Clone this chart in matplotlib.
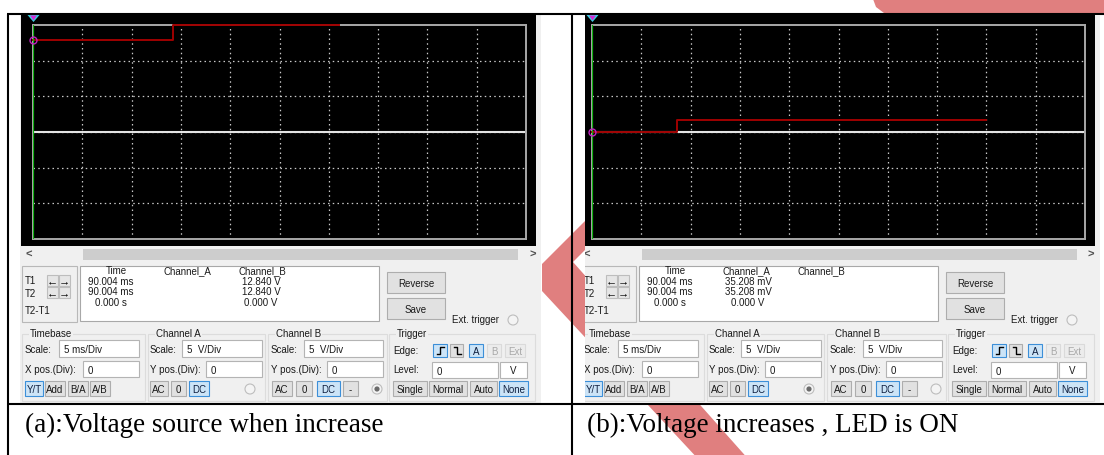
import numpy as np
import matplotlib.pyplot as plt
from matplotlib.patches import Rectangle, Polygon, Circle

W, H = 1104, 456

# oscilloscope traces: time in ms, volts
a_cha_t = [0.0, 50.0]
a_cha_v = [0.0, 0.0]
a_chb_t = [0.0, 14.2, 14.2, 31.0]
a_chb_v = [12.84, 12.84, 15.0, 15.0]
b_cha_t = [0.0, 50.0]
b_cha_v = [0.035, 0.035]
b_chb_t = [0.0, 8.6, 8.6, 40.0]
b_chb_v = [0.0, 0.0, 1.7, 1.7]

# readout table
readout_cols = ["Time", "Channel_A", "Channel_B"]
cursor_rows = ["T1", "T2", "T2-T1"]
time_vals = ["90.004 ms", "90.004 ms", "0.000 s"]
a_cha_vals = ["", "", ""]
a_chb_vals = ["12.840 V", "12.840 V", "0.000 V"]
b_cha_vals = ["35.208 mV", "35.208 mV", "0.000 V"]
b_chb_vals = ["", "", ""]

timebase_scale = "5 ms/Div"
channel_scale = "5  V/Div"
captions = ["(a):Voltage source when increase", "(b):Voltage increases , LED is ON"]

plt.rcParams['font.family'] = ['Liberation Sans', 'DejaVu Sans']

fig = plt.figure(figsize=(W / 100, H / 100), dpi=100)
ax = fig.add_axes([0, 0, 1, 1], zorder=0)
ax.set_xlim(0, W)
ax.set_ylim(H, 0)
ax.axis('off')

# panel b is cropped on its left side, so give it its own clipping axes
axb = fig.add_axes([585 / W, 0, (W - 585) / W, 1], zorder=2)
axb.set_xlim(585, W)
axb.set_ylim(H, 0)
axb.axis('off')


def box(a, x0, y0, x1, y1, fc, ec='none', lw=0.8, z=2):
    a.add_patch(Rectangle((x0, y0), x1 - x0, y1 - y0, fc=fc, ec=ec, lw=lw, zorder=z))


def txt(a, x, y, s, size=7, ha='left', color='#1a1a1a', z=4, **kw):
    a.text(x, y, s, fontsize=size, ha=ha, va='center', color=color,
           clip_on=True, zorder=z, **kw)


def button(a, x0, y0, x1, y1, label, on=False, grey=False):
    fc, ec, tc = '#E1E1E1', '#ADADAD', '#1a1a1a'
    if on:
        fc, ec, tc = '#CCE4F7', '#3C8FD8', '#102040'
    if grey:
        fc, ec, tc = '#ECECEC', '#DADADA', '#A8A8A8'
    box(a, x0, y0, x1, y1, fc, ec, lw=0.8, z=3)
    if label:
        txt(a, (x0 + x1) / 2, (y0 + y1) / 2 + 0.5, label, ha='center', color=tc)


def field(a, x0, y0, x1, y1, s):
    box(a, x0, y0, x1, y1, 'white', '#B4B4B4', lw=0.8, z=3)
    txt(a, x0 + 5, (y0 + y1) / 2 + 1, s)


def radio(a, x, y, on):
    a.add_patch(Circle((x, y), 5, fc='#F4F4F4', ec='#BDBDBD', lw=0.8, zorder=3))
    if on:
        a.add_patch(Circle((x, y), 2.6, fc='#6A6A6A', ec='none', zorder=4))


def group(a, x0, x1, label):
    a.add_patch(Rectangle((x0, 335), x1 - x0, 67, fc='none', ec='#DCDCDC', lw=0.8, zorder=2))
    a.text(x0 + 8, 334, label, fontsize=7, va='center', color='#1a1a1a', clip_on=True,
           zorder=4, bbox=dict(fc='#F0F0F0', ec='none', pad=0.6))


def draw_panel(a, dx, cha_vals, chb_vals, cha_radio):
    X = lambda x: x + dx
    box(a, X(20), 16, X(541), 404, '#F0F0F0', z=1)
    box(a, X(21), 16, X(536), 247, 'black', z=2)
    # scroll bar
    box(a, X(83), 250, X(518), 261, '#CDCDCD', z=2)
    txt(a, X(25), 255, '<', size=8, color='#505050', weight='bold')
    txt(a, X(529), 255, '>', size=8, color='#505050', weight='bold')
    # cursor flags above the screen
    a.add_patch(Polygon([(X(27.5), 16), (X(39.5), 16), (X(33.5), 23)], fc='#38D4E4', ec='none', zorder=4))
    a.add_patch(Polygon([(X(30), 16.5), (X(37), 16.5), (X(33.5), 21.5)], fc='#D42CD4', ec='none', zorder=4))

    # cursor box
    box(a, X(22), 267, X(77), 323, '#F0F0F0', '#B8B8B8', z=2)
    for label, y in zip(cursor_rows, [281, 294, 311]):
        txt(a, X(25), y, label)
    for y in [281, 293]:
        for x0, arrow in [(47, '\u2190'), (59, '\u2192')]:
            box(a, X(x0), y - 5.5, X(x0 + 11), y + 5.5, '#E6E6E6', '#BDBDBD', z=3)
            txt(a, X(x0 + 5.5), y, arrow, size=8, ha='center', weight='bold', color='black')

    # readout
    box(a, X(80), 267, X(379), 322, 'white', '#A8A8A8', z=2)
    for col, x in zip(readout_cols, [116, 187, 262]):
        txt(a, X(x), 271, col, ha='center')
    row_y = [282, 292, 303]
    for vals, x in zip([time_vals, cha_vals, chb_vals], [111, 189, 261]):
        for v, y in zip(vals, row_y):
            if v:
                txt(a, X(x), y, v, ha='center')

    button(a, X(387), 273, X(445), 294, 'Reverse')
    button(a, X(387), 299, X(445), 320, 'Save')
    txt(a, X(452), 320, 'Ext. trigger')
    radio(a, X(513), 321, False)

    # settings groups
    group(a, X(22), X(145), 'Timebase')
    group(a, X(148), X(265), 'Channel A')
    group(a, X(268), X(387), 'Channel B')
    group(a, X(389), X(535), 'Trigger')

    txt(a, X(25), 350, 'Scale:')
    field(a, X(59), 341, X(139), 358, timebase_scale)
    txt(a, X(150), 350, 'Scale:')
    field(a, X(182), 341, X(262), 358, channel_scale)
    txt(a, X(271), 350, 'Scale:')
    field(a, X(304), 341, X(383), 358, channel_scale)
    txt(a, X(393), 351, 'Edge:')
    button(a, X(433), 345, X(447), 358, '', on=True)
    button(a, X(450), 345, X(463), 358, '')
    a.plot([X(436.5), X(440), X(440), X(443.5)], [355, 355, 348, 348], color='black', lw=1.0, zorder=5)
    a.plot([X(453.5), X(457), X(457), X(460.5)], [348, 348, 355, 355], color='black', lw=1.0, zorder=5)
    button(a, X(469), 345, X(483), 358, 'A', on=True)
    button(a, X(487), 345, X(501), 358, 'B', grey=True)
    button(a, X(505), 345, X(525), 358, 'Ext', grey=True)

    txt(a, X(25), 370, 'X pos.(Div):')
    field(a, X(83), 362, X(139), 378, '0')
    txt(a, X(150), 370, 'Y pos.(Div):')
    field(a, X(206), 362, X(262), 378, '0')
    txt(a, X(271), 370, 'Y pos.(Div):')
    field(a, X(327), 362, X(383), 378, '0')
    txt(a, X(393), 370, 'Level:')
    field(a, X(432), 363, X(498), 379, '0')
    box(a, X(500), 363, X(527), 379, 'white', '#B4B4B4', z=3)
    txt(a, X(513.5), 371, 'V', ha='center')

    for x0, x1, lab, on in [(25, 43, 'Y/T', True), (45, 65, 'Add', False),
                            (68, 88, 'B/A', False), (90, 110, 'A/B', False),
                            (150, 168, 'AC', False), (171, 186, '0', False),
                            (189, 209, 'DC', True),
                            (272, 292, 'AC', False), (296, 312, '0', False),
                            (317, 340, 'DC', True), (343, 358, '-', False),
                            (393, 427, 'Single', False), (429, 467, 'Normal', False),
                            (470, 497, 'Auto', False), (499, 528, 'None', True)]:
        button(a, X(x0), 382, X(x1), 397, lab, on=on)
    radio(a, X(250), 390, cha_radio)
    radio(a, X(377), 390, not cha_radio)


def scope(x0, y0, x1, y1, cha_t, cha_v, chb_t, chb_v):
    sa = fig.add_axes([x0 / W, 1 - y1 / H, (x1 - x0) / W, (y1 - y0) / H], zorder=5)
    sa.set_facecolor('black')
    sa.set_xlim(0, 50)
    sa.set_ylim(-15, 15)
    sa.set_xticks([])
    sa.set_yticks([])
    for s in sa.spines.values():
        s.set_color('#A8A8A8')
        s.set_linewidth(1.4)
    for t in np.arange(5, 50, 5):
        sa.axvline(t, color='#C8C8C8', lw=0.9, ls=(0, (1.2, 2.6)))
    for v in np.arange(-10, 15, 5):
        sa.axhline(v, color='#C8C8C8', lw=0.9, ls=(0, (1.2, 2.6)))
    sa.plot(cha_t, cha_v, color='#E4E4E4', lw=1.5)
    sa.plot(chb_t, chb_v, color='#A00000', lw=1.4, clip_on=False, zorder=4)
    sa.axvline(0, color='#12B012', lw=1.6, zorder=5)
    sa.plot(chb_t[:1], chb_v[:1], 'o', mfc='none', mec='#C020C0', ms=5, mew=1.0,
            clip_on=False, zorder=6)


# watermark behind everything
ax.add_patch(Polygon([(542, 265), (542, 292), (700, 462), (750, 462), (573, 263),
                      (620, 216), (600, 207)], fc='#E07F7F', ec='none', zorder=0.5))
ax.add_patch(Polygon([(873, 0), (W, 0), (W, 14), (884, 14), (876, 8)],
                     fc='#E07F7F', ec='none', zorder=0.5))

draw_panel(ax, 0, a_cha_vals, a_chb_vals, False)
draw_panel(axb, 559, b_cha_vals, b_chb_vals, True)
scope(33, 26, 526, 240, a_cha_t, a_cha_v, a_chb_t, a_chb_v)
scope(592, 26, 1085, 240, b_cha_t, b_cha_v, b_chb_t, b_chb_v)

# table borders
for y in [15, 405]:
    ax.plot([7, W], [y, y], color='black', lw=1.5, zorder=10, solid_capstyle='butt')
for x in [8, 572]:
    ax.plot([x, x], [15, H], color='black', lw=1.5, zorder=10, solid_capstyle='butt')

# captions
for x, cap in zip([25, 587], captions):
    ax.text(x, 432, cap, fontsize=19.5, family='Liberation Serif', va='baseline',
            ha='left', color='black', zorder=10)

fig.savefig('out.png', dpi=100)
